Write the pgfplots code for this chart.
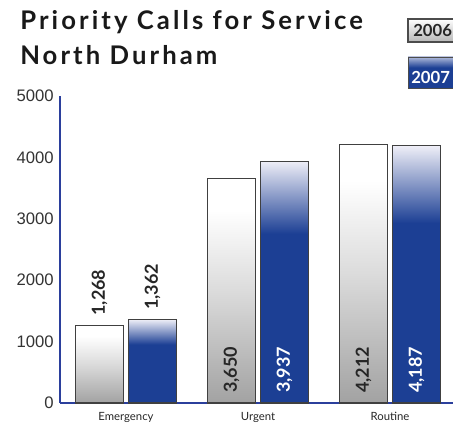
\documentclass[border=0pt]{standalone}
\usepackage{pgfplots}
\pgfplotsset{compat=1.18}
\usepackage{fontspec}
\setmainfont{Liberation Sans}
\newfontfamily\latofont{Lato}
\newfontfamily\titlefont[LetterSpace=12]{Lato}
\definecolor{barblue}{HTML}{1C3F94}
\definecolor{toplav}{HTML}{EEEEF7}
\definecolor{axblue}{HTML}{2B3F9C}
\definecolor{bargray}{HTML}{A2A2A2}
\definecolor{tickgray}{HTML}{333333}
\pgfdeclareverticalshading{blueshade}{100bp}{color(0bp)=(barblue); color(25bp)=(barblue); color(60bp)=(barblue); color(75bp)=(toplav); color(100bp)=(toplav)}
\pgfdeclareverticalshading{grayshade}{100bp}{color(0bp)=(bargray); color(25bp)=(bargray); color(50bp)=(black!14); color(68bp)=(white); color(100bp)=(white)}
\pgfdeclareverticalshading{leggray}{100bp}{color(0bp)=(black!28); color(25bp)=(black!28); color(55bp)=(black!12); color(75bp)=(white); color(100bp)=(white)}
\pgfdeclareverticalshading{legblue}{100bp}{color(0bp)=(barblue); color(25bp)=(barblue); color(58bp)=(barblue); color(75bp)=(toplav!70!barblue); color(100bp)=(toplav)}
\pgfplotsset{
  bar06/.style={ybar, bar shift=-19.875pt, draw=black!75, line width=0.8pt, shade, shading=grayshade},
  bar07/.style={ybar, bar shift=19.875pt, draw=black!75, line width=0.8pt, shade, shading=blueshade},
}
\begin{document}
\begin{tikzpicture}
\path[use as bounding box] (0,0) rectangle (339.75pt,318pt);
\clip (0,0) rectangle (339.75pt,318pt);
\begin{axis}[
  at={(45pt,15.75pt)}, anchor=south west,
  scale only axis,
  width=294.75pt, height=230.25pt,
  xmin=-0.5, xmax=2.477,
  ymin=0, ymax=5000,
  axis x line=bottom, axis y line=left,
  axis line style={draw=axblue, line width=0.8pt, -},
  ytick={0,1000,2000,3000,4000,5000},
  xtick={0,1,2},
  xticklabels={Emergency,Urgent,Routine},
  major tick length=0pt,
  yticklabel style={font=\fontsize{12.5}{14}\selectfont, text=tickgray, inner sep=0pt, xshift=-4.5pt},
  xticklabel style={font=\latofont\fontsize{8.5}{10}\selectfont, text=black!85, inner sep=0pt, yshift=-6.5pt},
  /pgf/number format/assume math mode=true,
  scaled y ticks=false,
  yticklabel={\pgfmathprintnumber[1000 sep={}]{\tick}},
  ybar, bar width=36pt,
  clip=false,
]
% 2006
\addplot[bar06] coordinates {(0,1268)};
\addplot[bar06] coordinates {(1,3650)};
\addplot[bar06] coordinates {(2,4212)};
% 2007
\addplot[bar07] coordinates {(0,1362)};
\addplot[bar07] coordinates {(1,3937)};
\addplot[bar07] coordinates {(2,4187)};
\begin{scope}[every node/.style={font=\latofont\bfseries\fontsize{13.5}{15}\selectfont, inner sep=0pt, anchor=west}]
\node[xshift=-19.875pt, yshift=7pt, rotate=90, text=black!85] at (axis cs:0,1268) {1,268};
\node[xshift=19.875pt, yshift=7pt, rotate=90, text=black!85] at (axis cs:0,1362) {1,362};
\node[xshift=-19.875pt, yshift=7.5pt, rotate=90, text=black!85] at (axis cs:1,0) {3,650};
\node[xshift=19.875pt, yshift=7.5pt, rotate=90, text=white] at (axis cs:1,0) {3,937};
\node[xshift=-19.875pt, yshift=7.5pt, rotate=90, text=black!85] at (axis cs:2,0) {4,212};
\node[xshift=19.875pt, yshift=7.5pt, rotate=90, text=white] at (axis cs:2,0) {4,187};
\end{scope}
\end{axis}
\node[anchor=base west, inner sep=0pt, font=\titlefont\bfseries\fontsize{19.25}{21}\selectfont, text=black!90] at (15pt,295.5pt) {Priority Calls for Service};
\node[anchor=base west, inner sep=0pt, font=\titlefont\bfseries\fontsize{19.25}{21}\selectfont, text=black!90] at (15pt,269.25pt) {North Durham};
\path[shade, shading=leggray, draw=black!70, line width=0.8pt] (306pt,286.5pt) rectangle (360pt,303.75pt);
\path[shade, shading=legblue, draw=black!70, line width=0.6pt] (306pt,252pt) rectangle (360pt,275.25pt);
\node[anchor=base west, inner sep=0pt, font=\latofont\bfseries\fontsize{12.5}{14}\selectfont, text=black!85] at (309.75pt,290.25pt) {2006};
\node[anchor=base west, inner sep=0pt, font=\latofont\bfseries\fontsize{12.5}{14}\selectfont, text=white] at (308.25pt,255pt) {2007};
\end{tikzpicture}
\end{document}
